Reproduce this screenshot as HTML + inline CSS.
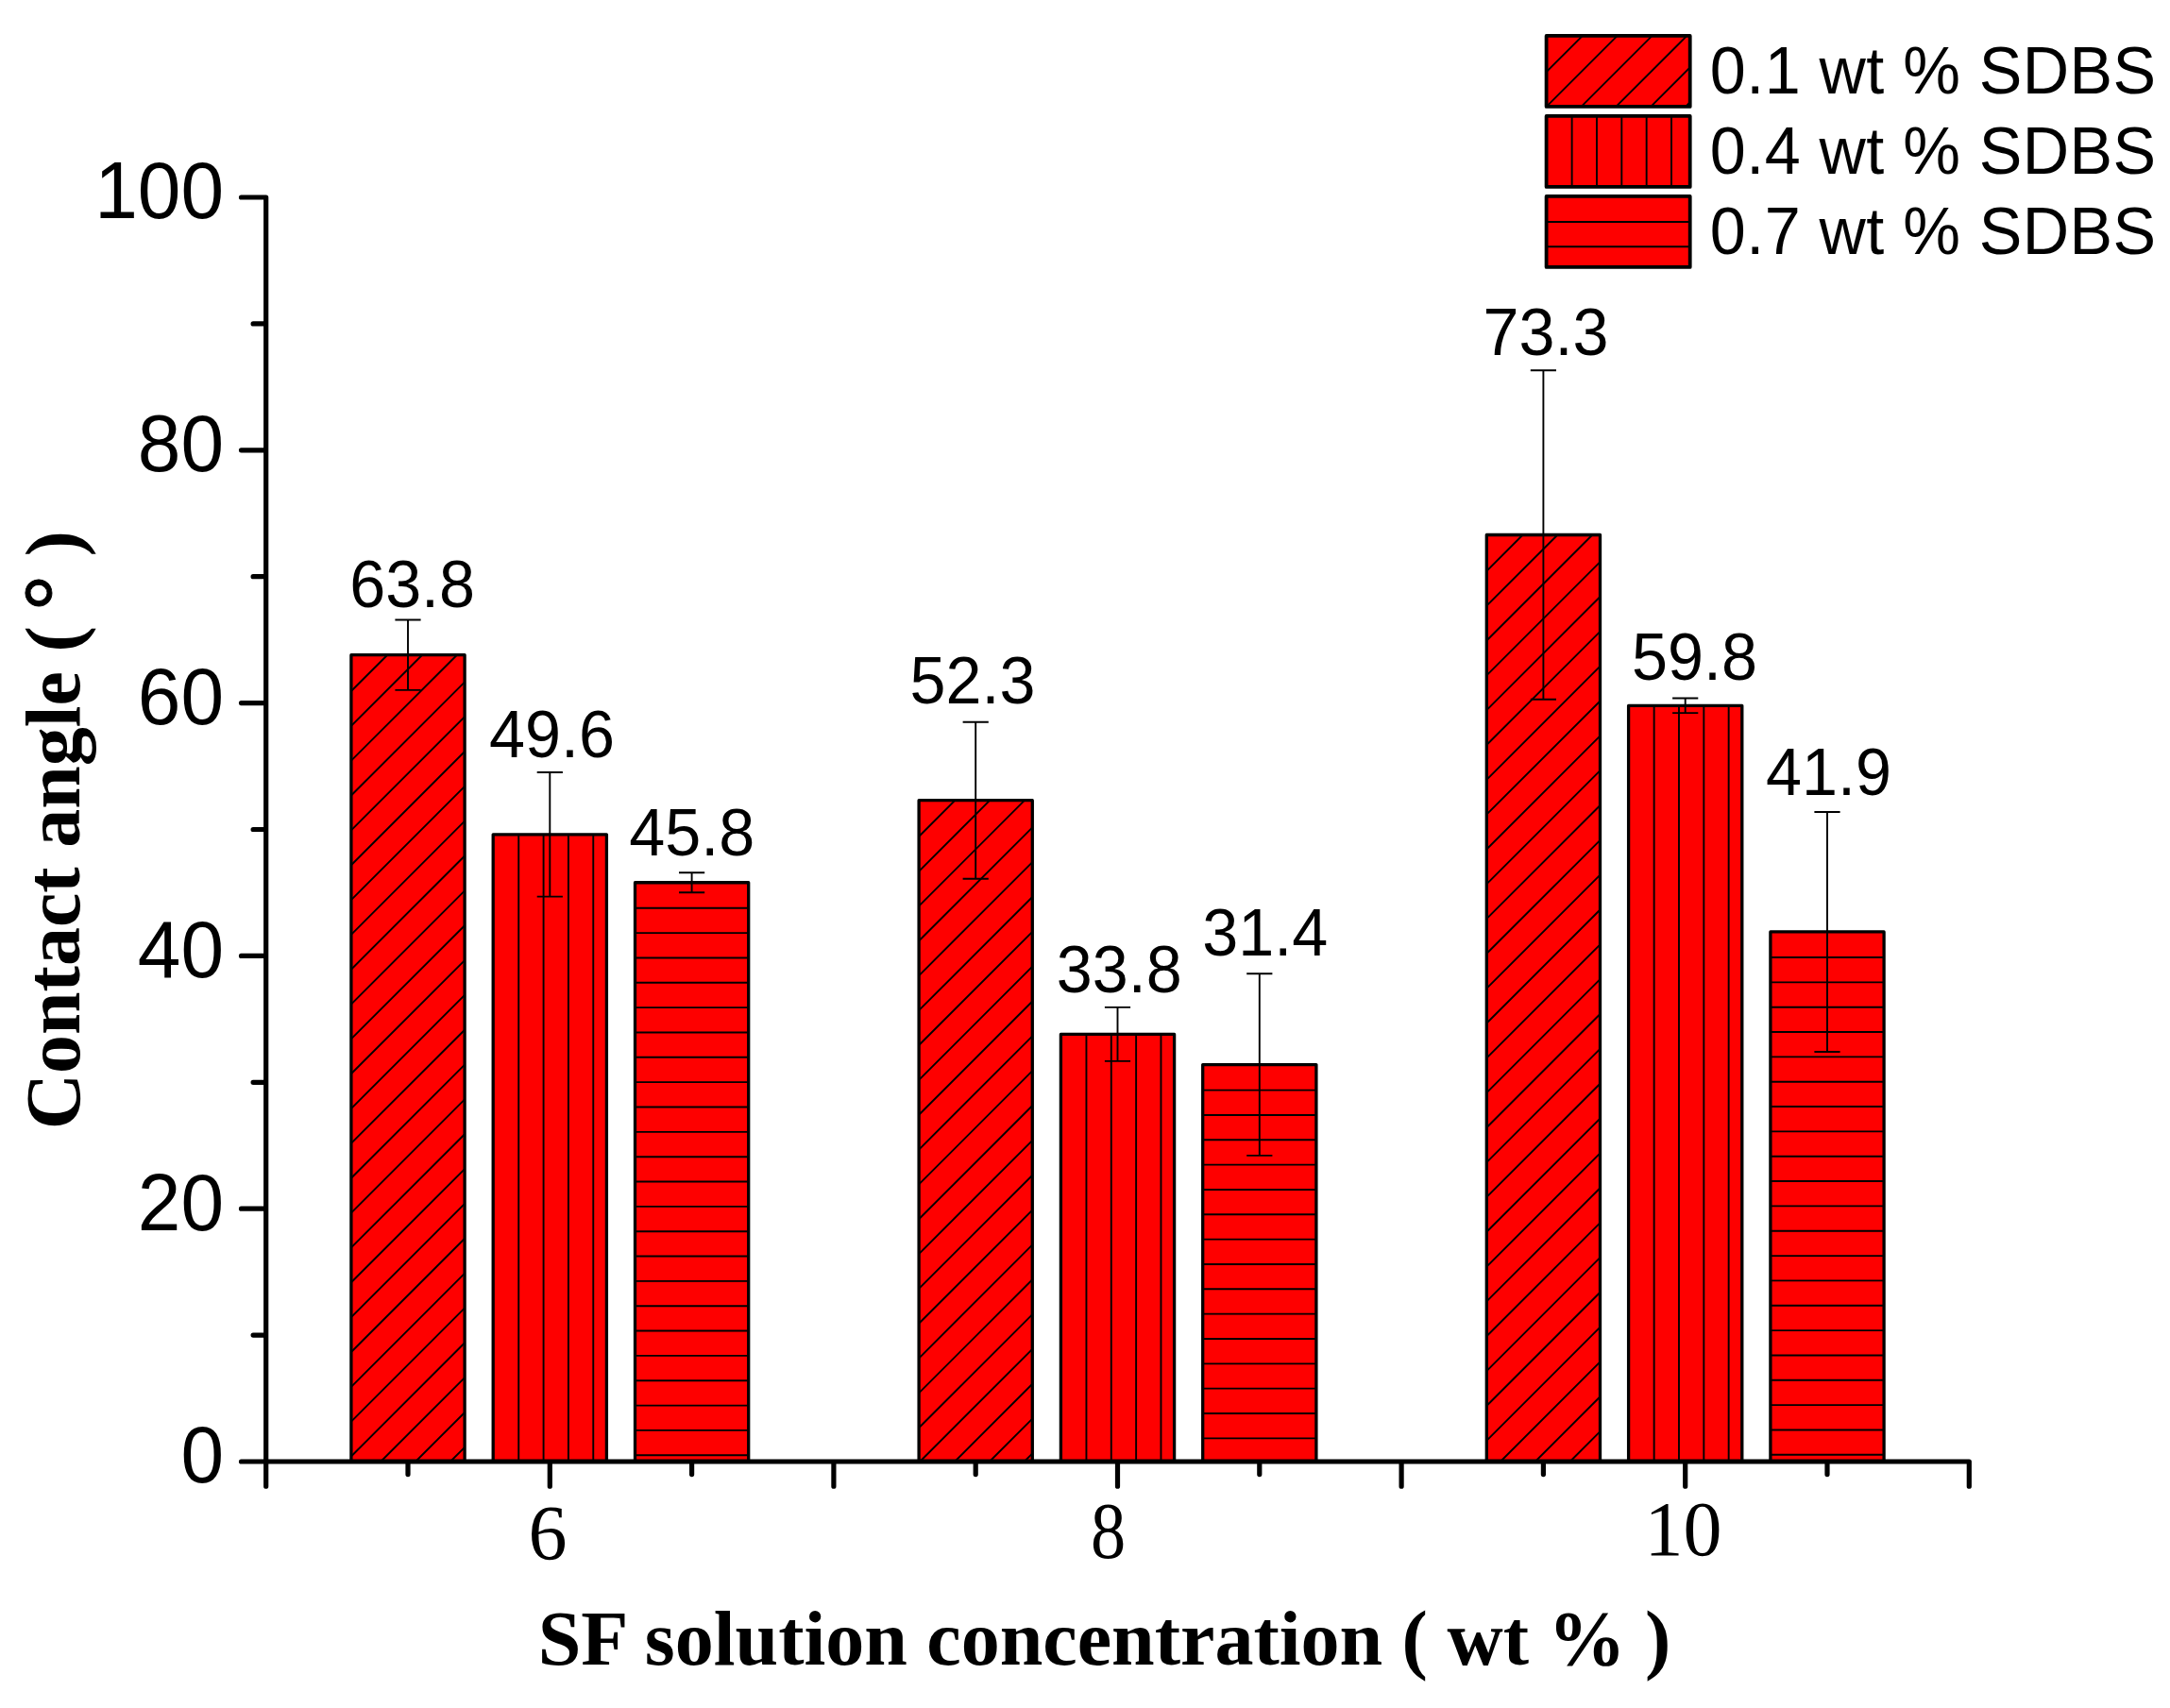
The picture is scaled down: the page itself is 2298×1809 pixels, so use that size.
<!DOCTYPE html>
<html lang="en"><head><meta charset="utf-8"><title>Contact angle vs SF solution concentration</title>
<style>html,body{margin:0;padding:0;background:#fff}body{width:2298px;height:1809px;overflow:hidden}svg{display:block}.sans{font-family:"Liberation Sans",Arial,Helvetica,sans-serif}.serif{font-family:"Liberation Serif","Times New Roman",Times,serif}</style></head><body>
<svg width="2298" height="1809" viewBox="0 0 2298 1809">
<rect width="2298" height="1809" fill="#fff"/>
<g id="bars">
<rect x="371.9" y="693.72" width="120.2" height="854.28" fill="#fe0000"/>
<path d="M371.9 732.01L410.19 693.72M371.9 768.85L447.03 693.72M371.9 805.69L483.87 693.72M371.9 842.53L492.1 722.33M371.9 879.37L492.1 759.17M371.9 916.21L492.1 796.01M371.9 953.05L492.1 832.85M371.9 989.89L492.1 869.69M371.9 1026.73L492.1 906.53M371.9 1063.57L492.1 943.37M371.9 1100.41L492.1 980.21M371.9 1137.25L492.1 1017.05M371.9 1174.09L492.1 1053.89M371.9 1210.93L492.1 1090.73M371.9 1247.77L492.1 1127.57M371.9 1284.61L492.1 1164.41M371.9 1321.45L492.1 1201.25M371.9 1358.29L492.1 1238.09M371.9 1395.13L492.1 1274.93M371.9 1431.97L492.1 1311.77M371.9 1468.81L492.1 1348.61M371.9 1505.65L492.1 1385.45M371.9 1542.49L492.1 1422.29M403.23 1548L492.1 1459.13M440.07 1548L492.1 1495.97M476.91 1548L492.1 1532.81" stroke="#000" stroke-width="1.9" fill="none"/>
<rect x="371.9" y="693.72" width="120.2" height="854.28" fill="none" stroke="#000" stroke-width="3.3" stroke-linejoin="round"/>
<rect x="522.2" y="883.86" width="120.2" height="664.14" fill="#fe0000"/>
<path d="M549.24 883.86V1548M575.58 883.86V1548M601.92 883.86V1548M628.26 883.86V1548" stroke="#000" stroke-width="1.9" fill="none"/>
<rect x="522.2" y="883.86" width="120.2" height="664.14" fill="none" stroke="#000" stroke-width="3.3" stroke-linejoin="round"/>
<rect x="672.5" y="934.74" width="120.2" height="613.26" fill="#fe0000"/>
<path d="M672.5 961.78H792.7M672.5 988.12H792.7M672.5 1014.46H792.7M672.5 1040.8H792.7M672.5 1067.14H792.7M672.5 1093.48H792.7M672.5 1119.82H792.7M672.5 1146.16H792.7M672.5 1172.5H792.7M672.5 1198.84H792.7M672.5 1225.18H792.7M672.5 1251.52H792.7M672.5 1277.86H792.7M672.5 1304.2H792.7M672.5 1330.54H792.7M672.5 1356.88H792.7M672.5 1383.22H792.7M672.5 1409.56H792.7M672.5 1435.9H792.7M672.5 1462.24H792.7M672.5 1488.58H792.7M672.5 1514.92H792.7M672.5 1541.26H792.7" stroke="#000" stroke-width="1.9" fill="none"/>
<rect x="672.5" y="934.74" width="120.2" height="613.26" fill="none" stroke="#000" stroke-width="3.3" stroke-linejoin="round"/>
<rect x="973.1" y="847.7" width="120.2" height="700.3" fill="#fe0000"/>
<path d="M973.1 885.99L1011.39 847.7M973.1 922.83L1048.23 847.7M973.1 959.67L1085.07 847.7M973.1 996.51L1093.3 876.31M973.1 1033.35L1093.3 913.15M973.1 1070.19L1093.3 949.99M973.1 1107.03L1093.3 986.83M973.1 1143.87L1093.3 1023.67M973.1 1180.71L1093.3 1060.51M973.1 1217.55L1093.3 1097.35M973.1 1254.39L1093.3 1134.19M973.1 1291.23L1093.3 1171.03M973.1 1328.07L1093.3 1207.87M973.1 1364.91L1093.3 1244.71M973.1 1401.75L1093.3 1281.55M973.1 1438.59L1093.3 1318.39M973.1 1475.43L1093.3 1355.23M973.1 1512.27L1093.3 1392.07M974.21 1548L1093.3 1428.91M1011.05 1548L1093.3 1465.75M1047.89 1548L1093.3 1502.59M1084.73 1548L1093.3 1539.43" stroke="#000" stroke-width="1.9" fill="none"/>
<rect x="973.1" y="847.7" width="120.2" height="700.3" fill="none" stroke="#000" stroke-width="3.3" stroke-linejoin="round"/>
<rect x="1123.4" y="1095.42" width="120.2" height="452.58" fill="#fe0000"/>
<path d="M1150.44 1095.42V1548M1176.78 1095.42V1548M1203.12 1095.42V1548M1229.46 1095.42V1548" stroke="#000" stroke-width="1.9" fill="none"/>
<rect x="1123.4" y="1095.42" width="120.2" height="452.58" fill="none" stroke="#000" stroke-width="3.3" stroke-linejoin="round"/>
<rect x="1273.7" y="1127.55" width="120.2" height="420.45" fill="#fe0000"/>
<path d="M1273.7 1154.59H1393.9M1273.7 1180.93H1393.9M1273.7 1207.27H1393.9M1273.7 1233.61H1393.9M1273.7 1259.95H1393.9M1273.7 1286.29H1393.9M1273.7 1312.63H1393.9M1273.7 1338.97H1393.9M1273.7 1365.31H1393.9M1273.7 1391.65H1393.9M1273.7 1417.99H1393.9M1273.7 1444.33H1393.9M1273.7 1470.67H1393.9M1273.7 1497.01H1393.9M1273.7 1523.35H1393.9" stroke="#000" stroke-width="1.9" fill="none"/>
<rect x="1273.7" y="1127.55" width="120.2" height="420.45" fill="none" stroke="#000" stroke-width="3.3" stroke-linejoin="round"/>
<rect x="1574.3" y="566.51" width="120.2" height="981.49" fill="#fe0000"/>
<path d="M1574.3 604.8L1612.59 566.51M1574.3 641.64L1649.43 566.51M1574.3 678.48L1686.27 566.51M1574.3 715.32L1694.5 595.12M1574.3 752.16L1694.5 631.96M1574.3 789L1694.5 668.8M1574.3 825.84L1694.5 705.64M1574.3 862.68L1694.5 742.48M1574.3 899.52L1694.5 779.32M1574.3 936.36L1694.5 816.16M1574.3 973.2L1694.5 853M1574.3 1010.04L1694.5 889.84M1574.3 1046.88L1694.5 926.68M1574.3 1083.72L1694.5 963.52M1574.3 1120.56L1694.5 1000.36M1574.3 1157.4L1694.5 1037.2M1574.3 1194.24L1694.5 1074.04M1574.3 1231.08L1694.5 1110.88M1574.3 1267.92L1694.5 1147.72M1574.3 1304.76L1694.5 1184.56M1574.3 1341.6L1694.5 1221.4M1574.3 1378.44L1694.5 1258.24M1574.3 1415.28L1694.5 1295.08M1574.3 1452.12L1694.5 1331.92M1574.3 1488.96L1694.5 1368.76M1574.3 1525.8L1694.5 1405.6M1588.94 1548L1694.5 1442.44M1625.78 1548L1694.5 1479.28M1662.62 1548L1694.5 1516.12" stroke="#000" stroke-width="1.9" fill="none"/>
<rect x="1574.3" y="566.51" width="120.2" height="981.49" fill="none" stroke="#000" stroke-width="3.3" stroke-linejoin="round"/>
<rect x="1724.6" y="747.28" width="120.2" height="800.72" fill="#fe0000"/>
<path d="M1751.64 747.28V1548M1777.98 747.28V1548M1804.32 747.28V1548M1830.66 747.28V1548" stroke="#000" stroke-width="1.9" fill="none"/>
<rect x="1724.6" y="747.28" width="120.2" height="800.72" fill="none" stroke="#000" stroke-width="3.3" stroke-linejoin="round"/>
<rect x="1874.9" y="986.96" width="120.2" height="561.04" fill="#fe0000"/>
<path d="M1874.9 1014H1995.1M1874.9 1040.34H1995.1M1874.9 1066.68H1995.1M1874.9 1093.02H1995.1M1874.9 1119.36H1995.1M1874.9 1145.7H1995.1M1874.9 1172.04H1995.1M1874.9 1198.38H1995.1M1874.9 1224.72H1995.1M1874.9 1251.06H1995.1M1874.9 1277.4H1995.1M1874.9 1303.74H1995.1M1874.9 1330.08H1995.1M1874.9 1356.42H1995.1M1874.9 1382.76H1995.1M1874.9 1409.1H1995.1M1874.9 1435.44H1995.1M1874.9 1461.78H1995.1M1874.9 1488.12H1995.1M1874.9 1514.46H1995.1M1874.9 1540.8H1995.1" stroke="#000" stroke-width="1.9" fill="none"/>
<rect x="1874.9" y="986.96" width="120.2" height="561.04" fill="none" stroke="#000" stroke-width="3.3" stroke-linejoin="round"/>
</g>
<g id="errors" stroke="#000" stroke-width="1.9" fill="none">
<path d="M432 656.52V730.92M418.4 656.52H445.6M418.4 730.92H445.6"/>
<path d="M582.3 818.06V949.66M568.7 818.06H595.9M568.7 949.66H595.9"/>
<path d="M732.6 924.24V945.24M719 924.24H746.2M719 945.24H746.2"/>
<path d="M1033.2 764.7V930.7M1019.6 764.7H1046.8M1019.6 930.7H1046.8"/>
<path d="M1183.5 1066.92V1123.92M1169.9 1066.92H1197.1M1169.9 1123.92H1197.1"/>
<path d="M1333.8 1031.25V1223.85M1320.2 1031.25H1347.4M1320.2 1223.85H1347.4"/>
<path d="M1634.4 392.31V740.71M1620.8 392.31H1648M1620.8 740.71H1648"/>
<path d="M1784.7 739.43V755.13M1771.1 739.43H1798.3M1771.1 755.13H1798.3"/>
<path d="M1935 859.96V1113.96M1921.4 859.96H1948.6M1921.4 1113.96H1948.6"/>
</g>
<path id="axes" d="M281.7 209V1574.2M255.5 1548H2085.3M268.1 1414.1H281.7M255.5 1280.2H281.7M268.1 1146.3H281.7M255.5 1012.4H281.7M268.1 878.5H281.7M255.5 744.6H281.7M268.1 610.7H281.7M255.5 476.8H281.7M268.1 342.9H281.7M255.5 209H281.7M432 1548V1561.6M582.3 1548V1574.2M732.6 1548V1561.6M882.9 1548V1574.2M1033.2 1548V1561.6M1183.5 1548V1574.2M1333.8 1548V1561.6M1484.1 1548V1574.2M1634.4 1548V1561.6M1784.7 1548V1574.2M1935 1548V1561.6M2085.3 1548V1574.2" stroke="#000" stroke-width="5.2" fill="none" stroke-linecap="round" stroke-linejoin="round"/>
<g class="sans" font-size="82" text-anchor="end" fill="#000">
<text transform="translate(237 1570.3) scale(1 1.042)">0</text>
<text transform="translate(237 1302.5) scale(1 1.042)">20</text>
<text transform="translate(237 1034.7) scale(1 1.042)">40</text>
<text transform="translate(237 766.9) scale(1 1.042)">60</text>
<text transform="translate(237 499.1) scale(1 1.042)">80</text>
<text transform="translate(237 231.3) scale(1 1.042)">100</text>
</g>
<g class="serif" font-size="82" text-anchor="middle" fill="#000">
<text transform="translate(580.1 1650.6) scale(1 1.01)">6</text>
<text transform="translate(1173.6 1650.3) scale(0.907 1.037)">8</text>
<text transform="translate(1782.4 1646.8) scale(1 1.015)">10</text>
</g>
<g class="sans" font-size="68.3" text-anchor="middle" fill="#000">
<text transform="translate(436.6 642.9) scale(1 1.042)">63.8</text>
<text transform="translate(584.4 801.8) scale(1 1.042)">49.6</text>
<text transform="translate(732.8 906.4) scale(1 1.042)">45.8</text>
<text transform="translate(1030 744.8) scale(1 1.042)">52.3</text>
<text transform="translate(1185.2 1051) scale(1 1.042)">33.8</text>
<text transform="translate(1339.8 1012.3) scale(1 1.042)">31.4</text>
<text transform="translate(1636.9 375.9) scale(1 1.042)">73.3</text>
<text transform="translate(1794.5 719.8) scale(1 1.042)">59.8</text>
<text transform="translate(1936.4 841.7) scale(1 1.042)">41.9</text>
</g>
<text class="serif" font-size="82" font-weight="bold" x="569.7" y="1763" fill="#000" id="xt">SF solution concentration ( wt % )</text>
<text class="serif" font-size="82" font-weight="bold" transform="translate(83.8 1196.2) rotate(-90)" fill="#000" id="yt">Contact angle ( <tspan font-size="93" dx="-3.6" dy="5.6" stroke="#000" stroke-width="0.9">°</tspan><tspan dx="-0.8" dy="-5.6"> )</tspan></text>
<g id="legend">
<rect x="1637.6" y="37.9" width="152.1" height="75" fill="#fe0000"/>
<path d="M1637.6 76.19L1675.89 37.9M1637.73 112.9L1712.73 37.9M1674.57 112.9L1749.57 37.9M1711.41 112.9L1786.41 37.9M1748.25 112.9L1789.7 71.45M1785.09 112.9L1789.7 108.29" stroke="#000" stroke-width="1.9" fill="none"/>
<rect x="1637.6" y="37.9" width="152.1" height="75" fill="none" stroke="#000" stroke-width="3.8" stroke-linejoin="round"/>
<text transform="translate(1810.8 99) scale(1 1.042)" class="sans" font-size="68.3" letter-spacing="0.46" fill="#000">0.1 wt % SDBS</text>
<rect x="1637.6" y="122.9" width="152.1" height="75" fill="#fe0000"/>
<path d="M1664.64 122.9V197.9M1690.98 122.9V197.9M1717.32 122.9V197.9M1743.66 122.9V197.9M1770 122.9V197.9" stroke="#000" stroke-width="1.9" fill="none"/>
<rect x="1637.6" y="122.9" width="152.1" height="75" fill="none" stroke="#000" stroke-width="3.8" stroke-linejoin="round"/>
<text transform="translate(1810.8 184) scale(1 1.042)" class="sans" font-size="68.3" letter-spacing="0.46" fill="#000">0.4 wt % SDBS</text>
<rect x="1637.6" y="207.9" width="152.1" height="75" fill="#fe0000"/>
<path d="M1637.6 234.94H1789.7M1637.6 261.28H1789.7" stroke="#000" stroke-width="1.9" fill="none"/>
<rect x="1637.6" y="207.9" width="152.1" height="75" fill="none" stroke="#000" stroke-width="3.8" stroke-linejoin="round"/>
<text transform="translate(1810.8 268.9) scale(1 1.042)" class="sans" font-size="68.3" letter-spacing="0.46" fill="#000">0.7 wt % SDBS</text>
</g>
</svg></body></html>
